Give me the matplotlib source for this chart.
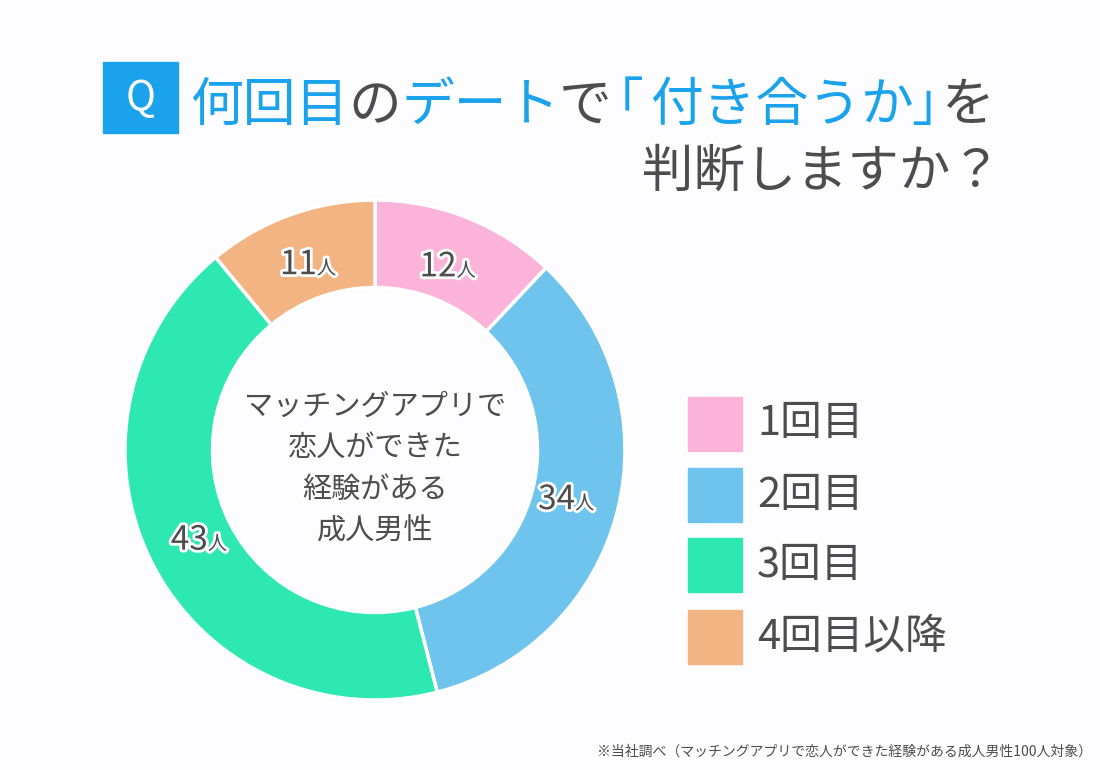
import matplotlib
matplotlib.use("Agg")
import matplotlib.pyplot as plt
import matplotlib.patheffects as pe
import numpy as np

plt.rcParams['font.family'] = ['Noto Sans CJK JP', 'DejaVu Sans']

# ---- data ----
categories = ["1回目", "2回目", "3回目", "4回目以降"]
values = [12, 34, 43, 11]
value_unit = "人"
colors = ["#FBB3DA", "#6EC4EC", "#2DE8B0", "#F3B483"]
center_text = "マッチングアプリで\n恋人ができた\n経験がある\n成人男性"
title_runs_1 = [("何回目", "blue"), ("の", "gray"), ("デート", "blue"), ("で", "gray"),
                ("「", "blue"), ("付き合うか", "blue"), ("」", "blue"), ("を", "gray")]
title_line_2 = "判断しますか？"
footnote = "※当社調べ（マッチングアプリで恋人ができた経験がある成人男性100人対象）"

BLUE = "#1AA3EC"
GRAY = "#4D4D4D"
W, H = 1100, 770
BG = "#FDFDFF"

fig = plt.figure(figsize=(W / 100, H / 100), dpi=100, facecolor=BG)
renderer = fig.canvas.get_renderer()


def fx(x):
    return x / W


def fy(y):
    return 1 - y / H


def place_runs(runs, x, y, ha="left", kerns=None, **kw):
    """runs: list of (text, size, color). x,y pixel coords (top-left origin), baseline."""
    if kerns is None:
        kerns = [0] * len(runs)
    texts = []
    widths = []
    for txt, size, col in runs:
        t = fig.text(0, fy(y), txt, fontsize=size, color=col, va="baseline", ha="left", **kw)
        bb = t.get_window_extent(renderer)
        texts.append(t)
        widths.append(bb.width)
    total = sum(widths) + sum(kerns)
    if ha == "left":
        start = x
    elif ha == "right":
        start = x - total
    else:
        start = x - total / 2
    cur = start
    for t, w, k in zip(texts, widths, kerns):
        cur += k
        t.set_x(fx(cur))
        cur += w
    return texts


# ---- title ----
qbox = plt.Rectangle((fx(103), fy(133)), fx(178) - fx(103), fy(62) - fy(133),
                     transform=fig.transFigure, color=BLUE, zorder=1)
fig.patches.append(qbox)
fig.text(fx(140.5), fy(98), "Q", fontsize=29, color="white", ha="center", va="center",
         family=["Noto Sans CJK JP"])

cmap = {"blue": BLUE, "gray": GRAY}
place_runs([(t, 38, cmap[c]) for t, c in title_runs_1], 190, 121, ha="left",
           kerns=[0, 0, 0, 0, -21, 6, -2, -22])
place_runs([(title_line_2, 37, GRAY)], 1002, 187, ha="right")

# ---- donut ----
cx, cy, R = 375, 450, 250
ax = fig.add_axes([fx(cx - R), fy(cy + R), 2 * R / W, 2 * R / H])
ax.set_facecolor("none")
wedges, _ = ax.pie(values, colors=colors, startangle=90, counterclock=False,
                   radius=1.0, wedgeprops=dict(width=0.35, edgecolor="white", linewidth=2.5))
ax.set_xlim(-1, 1)
ax.set_ylim(-1, 1)
ax.set_aspect("equal")
ax.axis("off")

# value labels
total = sum(values)
cum = 0
for v in values:
    mid = 90 - (cum + v / 2) / total * 360
    cum += v
    r = 0.79 * R
    lx = cx + r * np.cos(np.radians(mid))
    ly = cy - r * np.sin(np.radians(mid)) + 10
    place_runs([(str(v), 24, GRAY), (value_unit, 14, GRAY)], lx, ly, ha="center",
               path_effects=[pe.withStroke(linewidth=4, foreground="white")])

# center text
fig.text(fx(cx), fy(cy + 19), center_text, fontsize=21, color=GRAY, ha="center", va="center",
         linespacing=1.5)

# ---- legend ----
leg_y = [424, 495, 565, 637]
for lab, col, yy in zip(categories, colors, leg_y):
    sq = plt.Rectangle((fx(688), fy(yy + 27)), 54 / W, 54 / H, transform=fig.transFigure,
                       color=col)
    fig.patches.append(sq)
    fig.text(fx(757), fy(yy), lab, fontsize=30, color=GRAY, ha="left", va="center")

# ---- footnote ----
fig.text(fx(1092), fy(752), footnote, fontsize=10, color=GRAY, ha="right", va="center")

fig.savefig("out.png", dpi=100, facecolor=BG)
